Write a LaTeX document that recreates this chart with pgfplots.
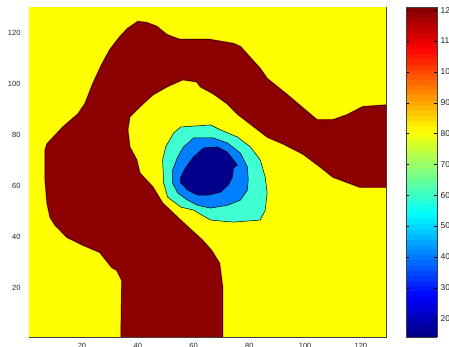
\documentclass[border=0pt]{standalone}
\usepackage{pgfplots}
\pgfplotsset{compat=1.18}
\usepackage{fontspec}
\setmainfont{Liberation Sans}
\definecolor{cdred}{RGB}{140,0,0}
\definecolor{cyel}{RGB}{255,255,0}
\definecolor{ccyan}{RGB}{64,255,208}
\definecolor{cblue}{RGB}{0,128,255}
\definecolor{cdblue}{RGB}{0,0,140}
\begin{document}
\begin{tikzpicture}
\begin{axis}[name=main, scale only axis, width=357pt, height=330pt,
  xmin=1, xmax=129, ymin=1, ymax=130,
  xtick={20,40,...,120}, ytick={20,40,...,120},
  major tick length=0pt,
  tick label style={font=\fontsize{7.5}{8}\selectfont, text=black!85},
  /pgf/number format/assume math mode=true,
  yticklabel style={xshift=-5pt},
  xticklabel style={yshift=-3pt},
  axis line style={black!75, line width=0.6pt},
  colormap/jet, point meta min=14, point meta max=121,
  colorbar sampled,
  colorbar/width=31pt,
  colorbar style={at={(parent axis.north east)}, anchor=north west, xshift=11.5pt,
    samples=65,
    scale only axis, height=330pt,
    ytick={20,30,...,120}, ytick pos=both, yticklabel pos=right,
    major tick length=3pt, tick align=inside,
    tick style={black}, axis line style={black!75, line width=0.6pt},
    yticklabel style={font=\fontsize{8.5}{9}\selectfont, text=black!85, xshift=0pt},
    /pgf/number format/assume math mode=true},
]
\addplot[fill=cyel, draw=none] coordinates {(1,1)(129,1)(129,130)(1,130)} -- cycle;
% dark red band
\addplot[fill=cdred, draw=black, line width=0.5pt, preaction={draw=orange!70!red, line width=1.6pt}] coordinates {
(34,0)(34.3,23.1)(32.5,27.1)(30.7,28.2)(26.4,34.1)(20.4,36.9)(14.6,40.0)(10.4,44.7)(8.6,47.8)(7.5,53.3)(6.8,62.4)(6.8,74.1)(7.5,76.5)(13.2,83.1)(18.6,88.2)(21.1,92.2)(23.9,100)(27.1,107.5)(30,113.3)(33.6,118.4)(36.4,121.6)(40,124.3)(43.2,123.9)(46.8,122.4)(50.4,119.2)(55,117.3)(65.7,117.3)(74.3,115.7)(76.8,114.5)(83.9,105.9)(86.4,102)(93.6,95.7)(102.9,87.1)(104.3,85.9)(110,85.9)(115,87.8)(120.7,91)(131,91.8)
(131,59.6)(119.6,59.6)(110,63.5)(105.4,67.5)(99.3,72.5)(92.1,76.5)(86.4,79.2)(75.7,88.2)(72.1,92.2)(67.1,96.1)(62.5,98.8)(61.1,100.8)(56.1,101.6)(50.4,98.8)(45.4,95.7)(40.7,91)(37.1,87.1)(36.4,82)(37.1,75.3)(39.6,70.2)(40.7,65.1)(45.4,59.6)(48.9,53.3)(56.1,45.9)(63.2,38.8)(66.4,34.9)(69.3,29.8)(70.4,20.4)(70.4,0)
} -- cycle;
% cyan
\addplot[fill=ccyan, draw=black, line width=0.5pt] coordinates {
(55.4,83.1)(66.1,83.9)(69.6,82)(75.7,79.2)(80.4,75.3)(83.9,70.2)(85.7,63.5)(86.4,57.3)(85.7,50.6)(83.9,46.7)(74.3,45.9)(66.1,46.7)(60,50.6)(55.4,51.8)(50.7,55.7)(49.3,61.2)(48.9,70.2)(50,75.3)(52.9,80.8)
} -- cycle;
% blue
\addplot[fill=cblue, draw=black, line width=0.5pt] coordinates {
(60,78.8)(67.1,78.8)(72.1,76.9)(76.8,72.9)(79.3,67.5)(79.6,62.4)(79.3,58.4)(76.8,54.5)(72.1,52.5)(66.1,51.4)(61.4,52.5)(57.9,54.5)(54.3,57.3)(52.5,61.2)(52.5,66.3)(54.3,71.4)(56.4,75.3)
} -- cycle;
% dark blue
\addplot[fill=cdblue, draw=black, line width=0.5pt] coordinates {
(63.6,74.9)(68.6,75.3)(72.1,73.3)(74.3,70.2)(75.7,68.2)(74.3,67.1)(73.9,63.5)(72.5,60.4)(69.6,57.6)(65.4,56.5)(61.4,56.5)(57.9,58.4)(55.4,61.2)(55.4,63.5)(57.1,67.1)(60,71.4)
} -- cycle;
\end{axis}
\pgfresetboundingbox
\path[use as bounding box] ([xshift=-29pt,yshift=-10pt]main.south west) rectangle ([xshift=63pt,yshift=7pt]main.north east);
\end{tikzpicture}
\end{document}
